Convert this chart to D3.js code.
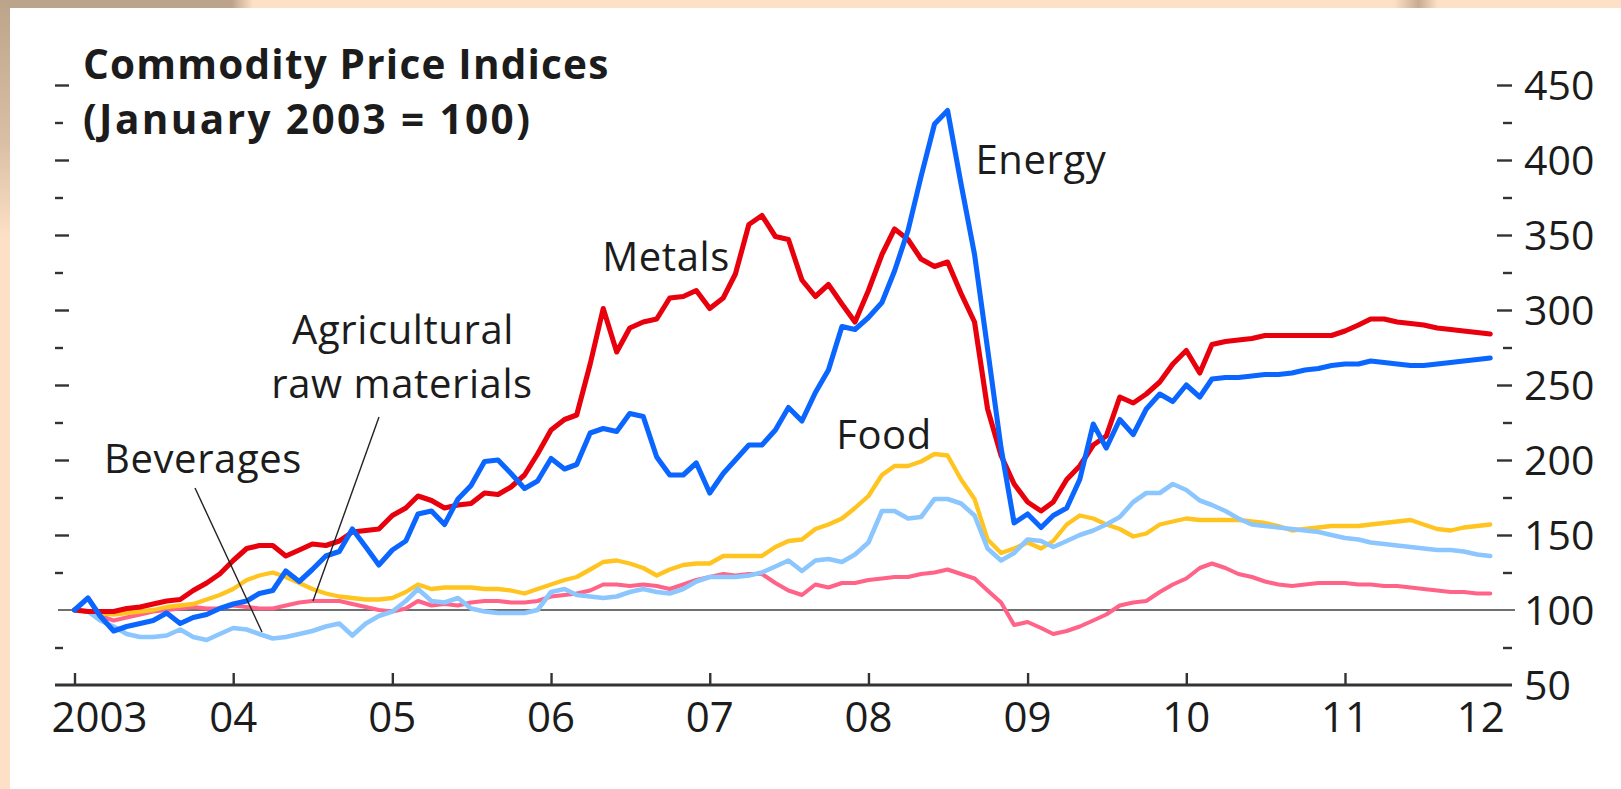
<!DOCTYPE html>
<html><head><meta charset="utf-8">
<script src="https://cdn.jsdelivr.net/npm/d3@7"></script>
<style>
html,body{margin:0;padding:0;background:#fff;overflow:hidden;}
svg{display:block;}
text{font-family:"Open Sans","Noto Sans",sans-serif;fill:#1c1c1c;}
</style></head><body>
<svg id="chart" width="1621" height="789"></svg>
<script>
// ---- data (monthly, Jan 2003 .. Dec 2011), index Jan 2003 = 100 ----
const startYear = 2003;
const tickYears = [2003,2004,2005,2006,2007,2008,2009,2010,2011,2012];
const tickLabels = ["2003","04","05","06","07","08","09","10","11","12"];
const yMajor = [50,100,150,200,250,300,350,400,450];
const yMinor = [75,125,175,225,275,325,375,425];

const metals = [100,99,99,99,101,102,104,106,107,113,118,124,
  133,141,143,143,136,140,144,143,146,152,153,154,
  163,168,176,173,168,170,171,178,177,182,190,204,
  220,227,230,264,301,272,288,292,294,308,309,313,
  301,308,324,357,363,349,347,320,309,317,304,292,
  313,337,354,347,334,329,332,311,292,234,203,184,
  172,166,172,187,196,210,216,242,238,244,252,264,
  273,258,277,279,280,281,283,283,283,283,283,283,
  286,290,294,294,292,291,290,288,287,286,285,284];
const energy = [100,108,96,86,89,91,93,98,91,95,97,101,
  104,106,111,113,126,119,127,136,139,154,142,130,
  140,146,164,166,157,174,183,199,200,191,181,186,
  201,194,197,218,221,219,231,229,202,190,190,198,
  178,191,200,210,210,220,235,226,245,260,289,287,
  295,305,326,353,389,424,433,384,337,274,208,158,
  164,155,163,168,187,224,208,227,217,234,244,239,
  250,242,254,255,255,256,257,257,258,260,261,263,
  264,264,266,265,264,263,263,264,265,266,267,268];
const food = [100,99,98,97,98,99,100,102,103,104,107,110,
  114,120,123,125,122,118,114,111,109,108,107,107,
  108,112,117,114,115,115,115,114,114,113,111,114,
  117,120,122,127,132,133,131,128,123,127,130,131,
  131,136,136,136,136,142,146,147,154,157,161,168,
  176,190,196,196,199,204,203,187,174,147,138,141,
  145,141,146,157,163,161,157,154,149,151,157,159,
  161,160,160,160,160,159,158,156,153,154,155,156,
  156,156,157,158,159,160,157,154,153,155,156,157];
const beverages = [100,99,93,89,84,82,82,83,87,82,80,84,
  88,87,84,81,82,84,86,89,91,83,91,96,
  99,106,114,106,105,108,101,99,98,98,98,100,
  112,114,110,109,108,109,112,114,112,111,114,119,
  122,122,122,123,125,129,133,126,133,134,132,137,
  145,166,166,161,162,174,174,171,163,141,133,138,
  147,146,142,146,150,153,157,162,172,178,178,184,
  180,173,170,166,161,157,156,155,154,153,152,150,
  148,147,145,144,143,142,141,140,140,139,137,136];
const agriRaw = [100,99,96,93,95,97,99,100,101,102,101,101,
  103,102,101,101,103,105,106,106,106,104,102,100,
  99,101,106,103,104,103,105,106,106,105,105,106,
  109,110,111,113,117,117,116,117,116,114,117,120,
  122,124,123,124,124,118,113,110,117,115,118,118,
  120,121,122,122,124,125,127,124,121,113,105,90,
  92,88,84,86,89,93,97,103,105,106,112,117,
  121,128,131,128,124,122,119,117,116,117,118,118,
  118,117,117,116,116,115,114,113,112,112,111,111];

const seriesNames = ["Agricultural raw materials","Food","Beverages","Metals","Energy"];
const seriesValues = [agriRaw, food, beverages, metals, energy];
const seriesColors = ["#ff6488","#ffc41f","#8cc6ff","#e8000c","#0a66ff"];
const seriesWidths = [4.1,4.3,4.6,5.1,5.1];

const months = d3.range(metals.length).map(i => new Date(startYear, i, 1));

// ---- drawing ----
const svg = d3.select("#chart");
const W = 1621, H = 789;

// frame / background
const defs = svg.append("defs");
const lg = defs.append("linearGradient").attr("id","leftStrip").attr("x1",0).attr("y1",0).attr("x2",0).attr("y2",1);
lg.append("stop").attr("offset","0%").attr("stop-color","#bca48a");
lg.append("stop").attr("offset","18%").attr("stop-color","#d9bfa5");
lg.append("stop").attr("offset","30%").attr("stop-color","#fde0c6");
lg.append("stop").attr("offset","100%").attr("stop-color","#fde0c6");
const tg = defs.append("linearGradient").attr("id","topStrip").attr("x1",0).attr("y1",0).attr("x2",1).attr("y2",0);
tg.append("stop").attr("offset","0%").attr("stop-color","#bca48a");
tg.append("stop").attr("offset","14.3%").attr("stop-color","#bca48a");
tg.append("stop").attr("offset","15.6%").attr("stop-color","#fde0c6");
tg.append("stop").attr("offset","86%").attr("stop-color","#fde0c6");
tg.append("stop").attr("offset","87.5%").attr("stop-color","#c9ab90");
tg.append("stop").attr("offset","88.7%").attr("stop-color","#fde0c6");
tg.append("stop").attr("offset","100%").attr("stop-color","#fde0c6");
svg.append("rect").attr("x",0).attr("y",0).attr("width",W).attr("height",H).attr("fill","#fde0c6");
svg.append("rect").attr("x",0).attr("y",0).attr("width",W).attr("height",8).attr("fill","url(#topStrip)");
svg.append("rect").attr("x",0).attr("y",0).attr("width",10).attr("height",H).attr("fill","url(#leftStrip)");
svg.append("rect").attr("x",10).attr("y",8).attr("width",W-10).attr("height",H-8).attr("fill","#ffffff");

const x = d3.scaleTime()
  .domain([new Date(2003,0,1), new Date(2012,0,1)])
  .range([74.5, 1503.7]);
const y = d3.scaleLinear().domain([50,450]).range([685,85]);

// reference line at 100
svg.append("line").attr("x1",58).attr("x2",1515)
  .attr("y1",y(100)).attr("y2",y(100))
  .attr("stroke","#707070").attr("stroke-width",2.2);

// left ticks (no labels)
const leftMajor = svg.append("g").attr("transform","translate(55,0)")
  .call(d3.axisRight(y).tickValues(yMajor.filter(v=>v>100)).tickSize(14).tickFormat(""));
const leftMinor = svg.append("g").attr("transform","translate(55,0)")
  .call(d3.axisRight(y).tickValues(yMinor).tickSize(8).tickFormat(""));

// right axis
const rightMajor = svg.append("g").attr("transform","translate(1497,0)")
  .call(d3.axisRight(y).tickValues(yMajor).tickSize(15).tickPadding(12));
const rightMinor = svg.append("g").attr("transform","translate(1503,0)")
  .call(d3.axisRight(y).tickValues(yMinor).tickSize(9).tickFormat(""));
[leftMajor,leftMinor,rightMajor,rightMinor].forEach(g=>{
  g.select(".domain").remove();
  g.selectAll(".tick line").attr("stroke","#333").attr("stroke-width",2.4);
});
rightMajor.selectAll(".tick").filter(d=>d<=100).select("line").remove();
rightMajor.selectAll(".tick text")
  .style("font-size","41px").style("font-family","'Open Sans',sans-serif")
  .attr("fill","#1c1c1c").attr("dy","0.36em");

// x axis
const xAxis = svg.append("g").attr("transform",`translate(0,${y(50)})`)
  .call(d3.axisTop(x).tickValues(tickYears.slice(0,-1).map(v=>new Date(v,0,1))).tickSize(12).tickFormat(""));
xAxis.select(".domain").remove();
xAxis.selectAll(".tick line").attr("stroke","#333").attr("stroke-width",2.4);
svg.append("line").attr("x1",55).attr("x2",1512).attr("y1",y(50)).attr("y2",y(50))
  .attr("stroke","#333").attr("stroke-width",2.8);
svg.append("g").selectAll("text").data(tickYears).join("text")
  .attr("x",(d,i)=> i===0 ? x(new Date(d,0,1)) - 23 : (i===tickYears.length-1 ? x(new Date(d,0,1)) + 1 : x(new Date(d,0,1))))
  .attr("y",732)
  .attr("text-anchor",(d,i)=> i===0 ? "start" : (i===tickYears.length-1 ? "end" : "middle"))
  .style("font-size","42px")
  .text((d,i)=>tickLabels[i]);

// series lines
const line = d3.line().x((d,i)=>x(months[i])).y(d=>y(d)).curve(d3.curveLinear);
svg.append("g").selectAll("path").data(seriesValues).join("path")
  .attr("d",d=>line(d))
  .attr("fill","none")
  .attr("stroke",(d,i)=>seriesColors[i])
  .attr("stroke-width",(d,i)=>seriesWidths[i])
  .attr("stroke-linejoin","round").attr("stroke-linecap","round");

// title
svg.append("text").attr("x",83).attr("y",79)
  .style("font-size","40.5px").style("font-weight","700").style("letter-spacing","1.2px")
  .text("Commodity Price Indices");
svg.append("text").attr("x",83).attr("y",134)
  .style("font-size","40.5px").style("font-weight","700").style("letter-spacing","2.4px")
  .text("(January 2003 = 100)");

// annotations
const ann = [
  {t:"Metals", x:666, y:271},
  {t:"Energy", x:1041, y:174},
  {t:"Food", x:884, y:449},
  {t:"Agricultural", x:403, y:344},
  {t:"raw materials", x:402, y:398},
  {t:"Beverages", x:203, y:473}
];
svg.append("g").selectAll("text").data(ann).join("text")
  .attr("x",d=>d.x).attr("y",d=>d.y).attr("text-anchor","middle")
  .style("font-size","40px").style("letter-spacing","0.6px").text(d=>d.t);
const leaders = [[195,488,262,632],[379,417,313,601]];
svg.append("g").selectAll("line").data(leaders).join("line")
  .attr("x1",d=>d[0]).attr("y1",d=>d[1]).attr("x2",d=>d[2]).attr("y2",d=>d[3])
  .attr("stroke","#222").attr("stroke-width",1.4);
</script>
</body></html>
